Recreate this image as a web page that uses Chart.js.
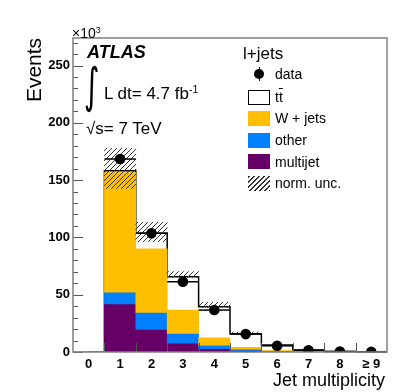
<!DOCTYPE html>
<html>
<head>
<meta charset="utf-8">
<script src="https://cdn.jsdelivr.net/npm/chart.js@4.4.1/dist/chart.umd.min.js"></script>
<style>
  body { margin: 0; background: #fff; }
  #wrap { position: relative; width: 407px; height: 392px; font-family: 'Liberation Sans', Arial, sans-serif; }
  canvas { position: absolute; left: 0; top: 0; }
  .t { position: absolute; line-height: 1; white-space: nowrap; transform: translateY(-50%); color: #000; }
  .t sup { font-size: 0.62em; vertical-align: 0.55em; line-height: 0; }
  .sw { position: absolute; left: 248px; width: 22px; height: 15px; box-sizing: border-box; }
</style>
</head>
<body>
<div id="wrap">
  <canvas id="chart" width="407" height="392"></canvas>

  <div class="t" style="left:33px;top:70px;font-size:21px;transform:translate(-50%,-50%) rotate(-90deg)">Events</div>
  <div class="t" style="left:72px;top:33px;font-size:14px">×10<sup>3</sup></div>
  <div class="t" style="right:22px;top:380px;font-size:18px">Jet multiplicity</div>

  <div class="t" style="left:87px;top:52px;font-size:18px;font-weight:bold;font-style:italic">ATLAS</div>
  <div class="t" style="left:84px;top:86px;font-size:30px;font-family:'DejaVu Sans';transform:translateY(-50%) scaleY(1.6)">∫</div>
  <div class="t" style="left:104px;top:93px;font-size:17px">L dt= 4.7 fb<sup>-1</sup></div>
  <div class="t" style="left:86px;top:128px;font-size:17px">√s= 7 TeV</div>

  <!-- legend -->
  <div class="t" style="left:243px;top:53px;font-size:17px">l+jets</div>
  <div style="position:absolute;left:258.5px;top:67px;width:1.5px;height:14px;background:#000"></div>
  <div style="position:absolute;left:254px;top:69px;width:10px;height:10px;border-radius:50%;background:#000"></div>
  <div class="t" style="left:275px;top:74px;font-size:14px">data</div>
  <div class="sw" style="top:90px;border:1.5px solid #000;background:#fff"></div>
  <div class="t" style="left:275px;top:97px;font-size:14px">t<span style="text-decoration:overline">t</span></div>
  <div class="sw" style="top:111px;background:#ffbf00"></div>
  <div class="t" style="left:275px;top:118px;font-size:14px">W + jets</div>
  <div class="sw" style="top:133px;background:#0080ff"></div>
  <div class="t" style="left:275px;top:140px;font-size:14px">other</div>
  <div class="sw" style="top:154px;background:#660066"></div>
  <div class="t" style="left:275px;top:161.5px;font-size:14px">multijet</div>
  <div class="sw" style="top:176px;background:repeating-linear-gradient(-45deg,#333 0 1px,transparent 1px 3.5px)"></div>
  <div class="t" style="left:275px;top:183px;font-size:14px">norm. unc.</div>
</div>

<script>
// jet multiplicity bins, values in 10^3 events
const bins = ['0', '1', '2', '3', '4', '5', '6', '7', '8', '≥ 9'];
const multijet = [0, 41.9, 19.8, 7.6, 3.0, 1.3, 0.4, 0.15, 0.05, 0.01];
const other    = [0, 10.2, 14.8, 8.7, 3.0, 1.1, 0.3, 0.10, 0.03, 0.01];
const wjets    = [0, 104.4, 55.5, 20.3, 6.3, 1.7, 0.6, 0.20, 0.07, 0.02];
const ttbar    = [0, 1.7, 13.5, 29.1, 27.2, 11.9, 4.8, 1.25, 0.30, 0.08];
const dataPts  = [null, 168.4, 103.6, 61.3, 36.6, 15.6, 5.4, 1.5, 0.4, 0.1];
const uncLow   = [null, 142.8, 96.2, 65.0, 39.0, 15.8, 6.0, 1.6, 0.4, 0.1];
const uncHigh  = [null, 177.7, 113.2, 70.1, 43.4, 17.3, 6.6, 1.9, 0.5, 0.14];
const yMax = 274;

// cumulative stack edges
const s1 = multijet.map((v, i) => v + other[i]);
const s2 = s1.map((v, i) => v + wjets[i]);
const total = s2.map((v, i) => v + ttbar[i]);

function hatch() {
  const s = 5, c = document.createElement('canvas');
  c.width = s; c.height = s;
  const g = c.getContext('2d');
  g.strokeStyle = '#333'; g.lineWidth = 1;
  g.beginPath();
  g.moveTo(-1, s + 1); g.lineTo(s + 1, -1);
  g.moveTo(-1, 1); g.lineTo(1, -1);
  g.moveTo(s - 1, s + 1); g.lineTo(s + 1, s - 1);
  g.stroke();
  return g.createPattern(c, 'repeat');
}

const rootAxes = {
  id: 'rootAxes',
  afterDraw(chart) {
    const { ctx, chartArea: a, scales: { x, y } } = chart;
    ctx.save();
    // horizontal bin-width bars on data points
    const meta = chart.getDatasetMeta(0);
    const half = (x.getPixelForValue(1) - x.getPixelForValue(0)) / 2;
    ctx.strokeStyle = '#000'; ctx.lineWidth = 1.5;
    meta.data.forEach((pt, i) => {
      if (dataPts[i] == null) return;
      ctx.beginPath(); ctx.moveTo(pt.x - half, pt.y); ctx.lineTo(pt.x + half, pt.y); ctx.stroke();
    });
    // ticks inside the frame
    ctx.strokeStyle = '#555'; ctx.lineWidth = 1;
    for (let v = 0; v <= yMax; v += 10) {
      const py = Math.round(y.getPixelForValue(v)) + 0.5;
      const len = v % 50 === 0 ? 10 : 5;
      ctx.beginPath(); ctx.moveTo(a.left, py); ctx.lineTo(a.left + len, py); ctx.stroke();
    }
    for (let i = 1; i < bins.length; i++) {
      const px = Math.round(x.getPixelForValue(i) - half) + 0.5;
      ctx.beginPath(); ctx.moveTo(px, a.bottom); ctx.lineTo(px, a.bottom - 9); ctx.stroke();
    }
    ctx.strokeStyle = '#808080'; ctx.lineWidth = 1.5;
    ctx.strokeRect(a.left, a.top, a.right - a.left, a.bottom - a.top);
    ctx.restore();
  }
};

Chart.defaults.font.family = "'Liberation Sans', Arial, sans-serif";
Chart.defaults.color = '#000';

const barBase = { type: 'bar', barPercentage: 1, categoryPercentage: 1, grouped: false, borderWidth: 0 };

new Chart(document.getElementById('chart'), {
  type: 'bar',
  data: {
    labels: bins,
    datasets: [
      { type: 'line', label: 'data', data: dataPts, showLine: false, pointRadius: 5.3,
        pointBackgroundColor: '#000', pointBorderWidth: 0, order: 0 },
      { ...barBase, label: 'norm. unc.', data: uncLow.map((v, i) => v == null ? null : [v, uncHigh[i]]),
        backgroundColor: hatch(), order: 1 },
      { ...barBase, label: 'W + jets', data: s1.map((v, i) => [v, s2[i]]), backgroundColor: '#ffbf00', order: 2 },
      { ...barBase, label: 'other', data: multijet.map((v, i) => [v, s1[i]]), backgroundColor: '#0080ff', order: 3 },
      { ...barBase, label: 'multijet', data: multijet.map(v => [0, v]), backgroundColor: '#660066', order: 4 },
      { type: 'line', label: 'tt', data: total, stepped: 'middle', borderColor: '#000', borderWidth: 1.5,
        pointRadius: 0, fill: false, order: 5 },
    ]
  },
  options: {
    responsive: false,
    animation: false,
    layout: { padding: { top: 38, right: 20, left: 0, bottom: 0 } },
    plugins: { legend: { display: false }, tooltip: { enabled: false } },
    scales: {
      x: {
        grid: { display: false, drawTicks: false }, border: { display: false },
        ticks: { font: { size: 13, weight: 'bold' }, padding: 5, maxRotation: 0, autoSkip: false },
        afterFit: s => { s.height = 40; }
      },
      y: {
        min: 0, max: yMax,
        grid: { display: false, drawTicks: false }, border: { display: false },
        ticks: { stepSize: 50, font: { size: 13, weight: 'bold' }, padding: 3 },
        afterBuildTicks: s => { s.ticks = s.ticks.filter(t => t.value % 50 === 0); },
        afterFit: s => { s.width = 73; }
      }
    }
  },
  plugins: [rootAxes]
});
</script>
</body>
</html>
